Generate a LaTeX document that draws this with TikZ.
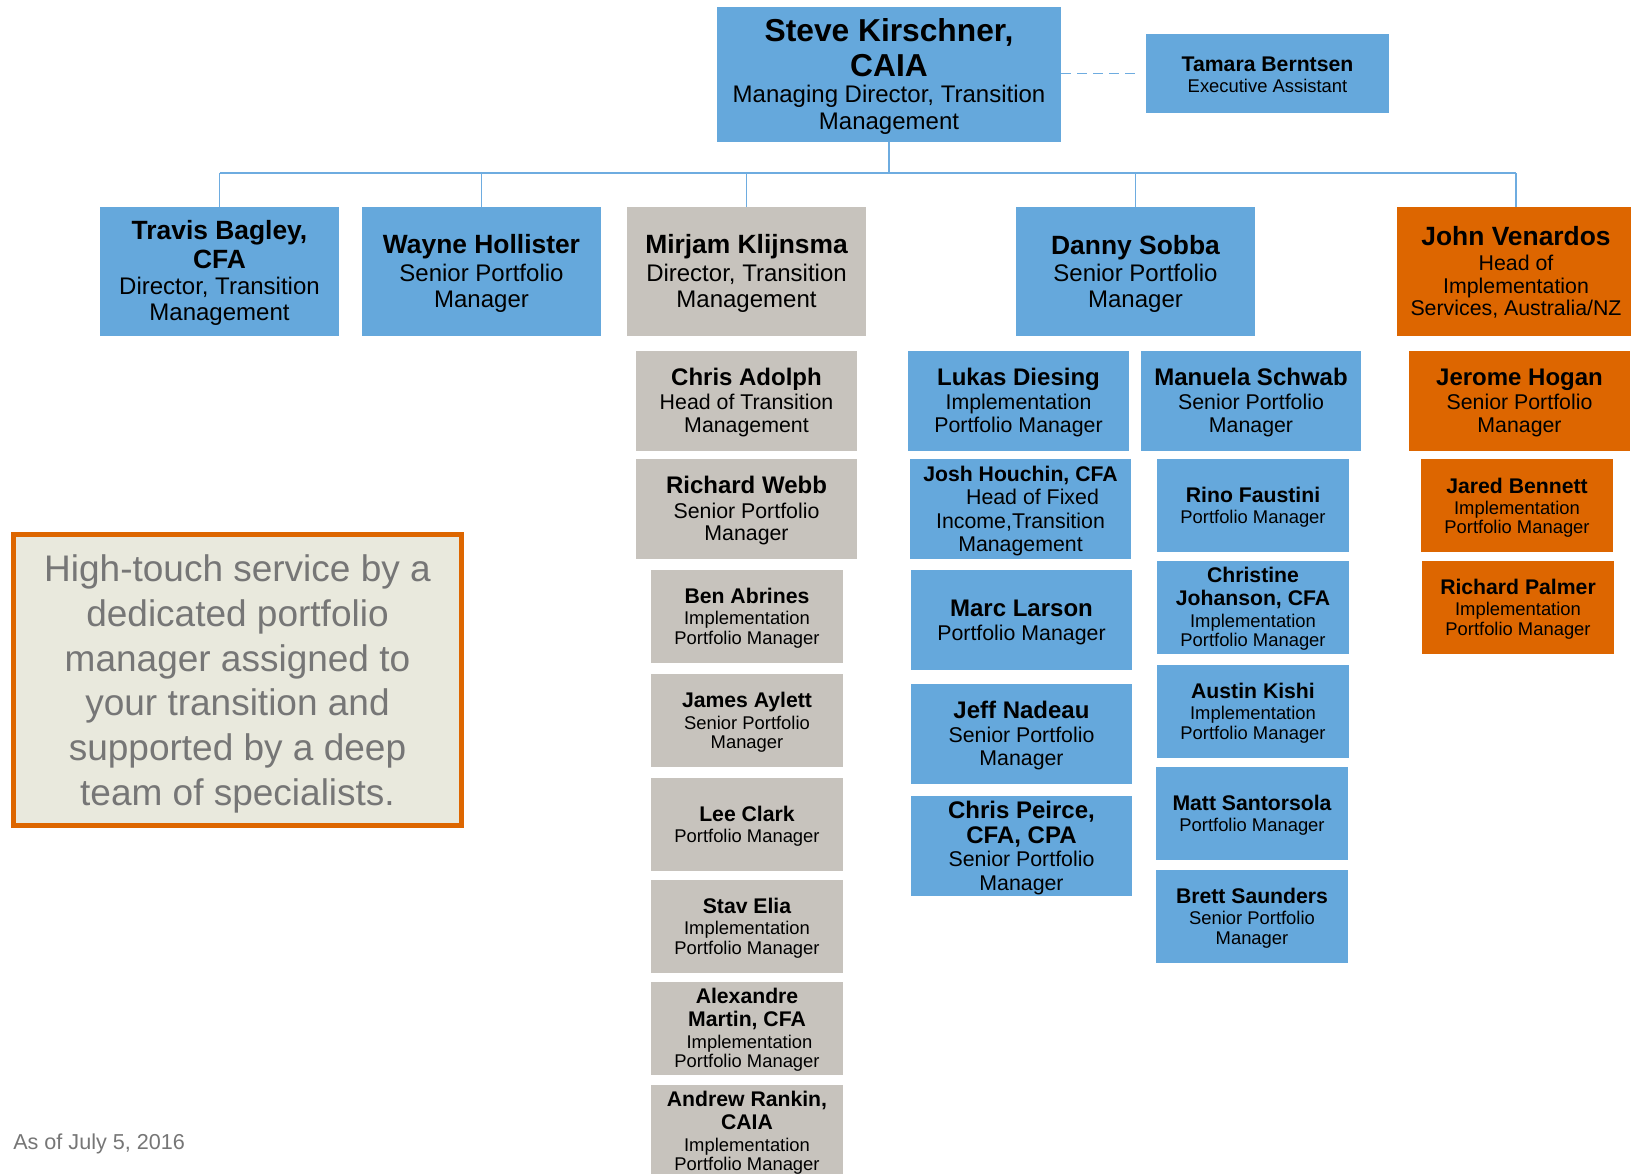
\documentclass[tikz,border=0pt]{standalone}
\usepackage{fontspec}
\setmainfont{Liberation Sans}
\definecolor{cblue}{RGB}{101,168,220}
\definecolor{cgray}{RGB}{199,195,189}
\definecolor{corange}{RGB}{221,102,0}
\definecolor{cline}{RGB}{110,172,224}
\definecolor{cnotefill}{RGB}{233,233,221}
\definecolor{cnotetext}{RGB}{118,118,118}
\newcommand\NmZ{\fontsize{23.8pt}{26.8pt}\selectfont\bfseries}
\newcommand\SbZ{\fontsize{18pt}{20pt}\selectfont}
\newcommand\NmA{\fontsize{19.8pt}{21.2pt}\selectfont\bfseries}
\newcommand\SbA{\fontsize{18pt}{19.5pt}\selectfont}
\newcommand\SbJ{\fontsize{16pt}{16.9pt}\selectfont}
\newcommand\NmB{\fontsize{18pt}{18.8pt}\selectfont\bfseries}
\newcommand\SbB{\fontsize{16pt}{17pt}\selectfont}
\newcommand\NmC{\fontsize{15.9pt}{16.5pt}\selectfont\bfseries}
\newcommand\SbC{\fontsize{13.8pt}{14.8pt}\selectfont}
\newcommand\SbH{\fontsize{16pt}{17.5pt}\selectfont}
\newcommand\TS[1][3.5pt]{\rule{0pt}{\dimexpr\fontcharht\font`l+#1\relax}}
\tikzset{
  box/.style={rectangle, inner sep=0pt, align=center, text=black},
  blbox/.style={box, fill=cblue},
  grbox/.style={box, fill=cgray},
  orbox/.style={box, fill=corange},
  wh/.style 2 args={minimum width=#1*0.75pt, minimum height=#2*0.75pt},
  conn/.style={draw=cline, line width=1.1pt},
  busline/.style={draw=cline, line width=1.5pt},
  notebox/.style={rectangle, draw=corange, line width=4.1pt, fill=cnotefill,
    inner sep=0pt, align=center, text=cnotetext,
    font=\fontsize{27.75pt}{33.5pt}\selectfont},
}
\begin{document}
\begin{tikzpicture}[x=0.75pt,y=-0.75pt]
\useasboundingbox (0,0) rectangle (1631,1174);
\fill[white] (0,0) rectangle (1631,1174);

% top level
\node[blbox, wh={344}{135}, font=\SbZ] (steve) at (889,74.5)
  {\NmZ\TS Steve Kirschner,\\[5pt]\NmZ CAIA\\\SbZ Managing Director, Transition\\\SbZ Management};
\node[blbox, wh={243}{79}, font=\SbC] (tamara) at (1267.5,73.5)
  {\NmC\TS[2pt]Tamara Berntsen\\[1pt]\SbC Executive Assistant};

% second level
\node[blbox, wh={239}{129}, font=\SbA] (travis) at (219.5,271.5)
  {\NmA\TS Travis Bagley,\\[2.2pt]\NmA CFA\\\SbA Director, Transition\\\SbA Management};
\node[blbox, wh={239}{129}, font=\SbA] (wayne) at (481.5,271.5)
  {\NmA\TS Wayne Hollister\\[1pt]\SbA Senior Portfolio\\\SbA Manager};
\node[grbox, wh={239}{129}, font=\SbA] (mirjam) at (746.5,271.5)
  {\NmA\TS Mirjam Klijnsma\\[1pt]\SbA Director, Transition\\\SbA Management};
\node[blbox, wh={239}{129}, font=\SbA] (danny) at (1135.5,271.5)
  {\NmA\TS[4.5pt]Danny Sobba\\[1pt]\SbA Senior Portfolio\\\SbA Manager};
\node[orbox, wh={238}{129}, font=\SbJ] (jv) at (1516,271.5)
  {\NmA\TS[2.5pt]John Venardos\\[1.8pt]\SbJ Head of\\\SbJ Implementation\\\SbJ Services, Australia/NZ};

% Mirjam's team
\node[grbox, wh={221}{100}, font=\SbB] (adolph) at (746.5,401)
  {\NmB\TS[2.5pt]Chris Adolph\\[1.2pt]\SbB Head of Transition\\\SbB Management};
\node[grbox, wh={221}{100}, font=\SbB] (webb) at (746.5,509)
  {\NmB\TS Richard Webb\\[1.2pt]\SbB Senior Portfolio\\\SbB Manager};
\node[grbox, wh={192}{93}, font=\SbC] (ben) at (747,616.5)
  {\NmC\TS Ben Abrines\\[1pt]\SbC Implementation\\\SbC Portfolio Manager};
\node[grbox, wh={192}{93}, font=\SbC] (james) at (747,720.5)
  {\NmC\TS James Aylett\\[1.5pt]\SbC Senior Portfolio\\\SbC Manager};
\node[grbox, wh={192}{93}, font=\SbC] (lee) at (747,824.5)
  {\NmC\TS Lee Clark\\[1pt]\SbC Portfolio Manager};
\node[grbox, wh={192}{93}, font=\SbC] (stav) at (747,926.5)
  {\NmC\TS Stav Elia\\[1pt]\SbC Implementation\\\SbC Portfolio Manager};
\node[grbox, wh={192}{93}, font=\SbC] (alex) at (747,1028.5)
  {\NmC\TS[2.5pt]Alexandre\\[2.5pt]\NmC Martin, CFA\\[1.5pt]\SbC\hspace*{3.75pt}Implementation\\\SbC Portfolio Manager};
\node[grbox, wh={192}{93}, font=\SbC] (andrew) at (747,1131.5)
  {\NmC\TS[2.5pt]Andrew Rankin,\\[2.5pt]\NmC CAIA\\[1.5pt]\SbC Implementation\\\SbC Portfolio Manager};

% Danny's team
\node[blbox, wh={221}{100}, font=\SbB] (lukas) at (1018.5,401)
  {\NmB\TS[2.5pt]Lukas Diesing\\[1.2pt]\SbB Implementation\\\SbB Portfolio Manager};
\node[blbox, wh={220}{100}, font=\SbB] (manuela) at (1251,401)
  {\NmB\TS[2.5pt]Manuela Schwab\\[1.2pt]\SbB Senior Portfolio\\\SbB Manager};
\node[blbox, wh={221}{100}, font=\SbH] (josh) at (1020.5,509)
  {\NmC\TS[3.5pt]Josh Houchin, CFA\\\SbB\hspace*{18pt}Head of Fixed\\\SbB Income,Transition\\\SbB Management};
\node[blbox, wh={221}{100}, font=\SbB] (marc) at (1021.5,620)
  {\NmB\TS Marc Larson\\[1.2pt]\SbB Portfolio Manager};
\node[blbox, wh={221}{100}, font=\SbB] (jeff) at (1021.5,734)
  {\NmB\TS[2.5pt]Jeff Nadeau\\[1.2pt]\SbB Senior Portfolio\\\SbB Manager};
\node[blbox, wh={221}{100}, font=\SbH] (peirce) at (1021.5,846)
  {\NmB\TS Chris Peirce,\\[1pt]\NmB CFA, CPA\\\SbB Senior Portfolio\\\SbB Manager};
\node[blbox, wh={192}{93}, font=\SbC] (rino) at (1253,505.5)
  {\NmC\TS Rino Faustini\\[1pt]\SbC Portfolio Manager};
\node[blbox, wh={192}{93}, font=\SbC] (christine) at (1253,607.5)
  {\NmC\TS[2.5pt]Christine\\[2.5pt]\NmC Johanson, CFA\\[1.5pt]\SbC Implementation\\\SbC Portfolio Manager};
\node[blbox, wh={192}{93}, font=\SbC] (austin) at (1253,711.5)
  {\NmC\TS Austin Kishi\\[1pt]\SbC Implementation\\\SbC Portfolio Manager};
\node[blbox, wh={192}{93}, font=\SbC] (matt) at (1252,813.5)
  {\NmC\TS Matt Santorsola\\[1pt]\SbC Portfolio Manager};
\node[blbox, wh={192}{93}, font=\SbC] (brett) at (1252,916.5)
  {\NmC\TS Brett Saunders\\[1pt]\SbC Senior Portfolio\\\SbC Manager};

% John's team
\node[orbox, wh={221}{100}, font=\SbB] (jerome) at (1519.5,401)
  {\NmB\TS[2.5pt]Jerome Hogan\\[1.2pt]\SbB Senior Portfolio\\\SbB Manager};
\node[orbox, wh={192}{93}, font=\SbC] (jared) at (1517,505.5)
  {\NmC\TS[4pt]Jared Bennett\\[1pt]\SbC Implementation\\\SbC Portfolio Manager};
\node[orbox, wh={192}{93}, font=\SbC] (palmer) at (1518,607.5)
  {\NmC\TS Richard Palmer\\[1pt]\SbC Implementation\\\SbC Portfolio Manager};

% connectors
\coordinate (bus) at (889,173);
\draw[conn] (steve.south) -- (bus);
\draw[busline] (travis.north |- bus) -- (jv.north |- bus);
\foreach \n in {travis,wayne,mirjam,danny,jv}
  \draw[conn] (\n.north |- bus) -- (\n.north);
\draw[conn, dash pattern=on 7.5pt off 4.5pt, shorten >=7.5pt]
  (steve.east |- tamara.west) -- (tamara.west);

% note box
\node[notebox, wh={447.5}{290.5}] (note) at (237.5,680)
  {\TS[7pt]High-touch service by a\\dedicated portfolio\\manager assigned to\\your transition and\\supported by a deep\\team of specialists.};

\node[anchor=base west, inner sep=0pt, text=cnotetext,
  font=\fontsize{16.2pt}{18pt}\selectfont] (date) at (13,1149) {As of July 5, 2016};
\end{tikzpicture}
\end{document}
